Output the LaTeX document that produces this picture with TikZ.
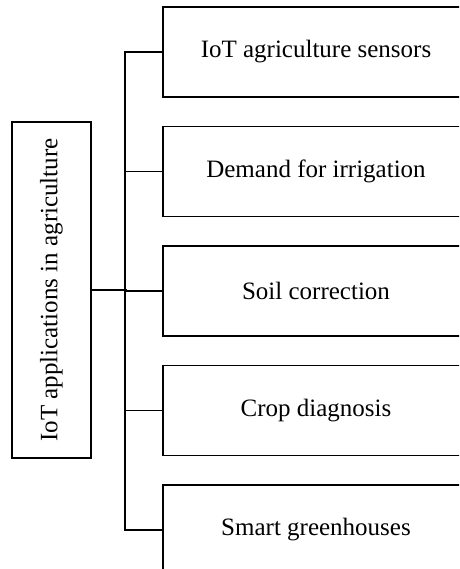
\documentclass[tikz,border=0pt]{standalone}
\usepackage{fontspec}
\setmainfont{Liberation Serif}
\usetikzlibrary{positioning}

\begin{document}
\begin{tikzpicture}[
  x=1pt, y=-1pt,
  node distance=28pt,
  app/.style={draw, line width=1.5pt, minimum width=306pt, minimum height=90pt,
    inner sep=0pt, font=\fontsize{25}{30}\selectfont},
  root/.style={draw, line width=1.5pt, minimum width=336pt, minimum height=79pt,
    inner sep=0pt, rotate=90, font=\fontsize{25}{30}\selectfont},
  link/.style={line width=1.6pt}
]
  \useasboundingbox (0,0) rectangle (459,569);
  \clip (0,0) rectangle (459,569);
  \node[root] (root) at (51.5,290) {IoT applications in agriculture};
  \node[app] (sens) at (316,52) {IoT agriculture sensors};
  \node[app,below=of sens] (irri) {Demand for irrigation};
  \node[app,below=of irri] (soil) {Soil correction};
  \node[app,below=of soil] (crop) {Crop diagnosis};
  \node[app,below=of crop] (house) {Smart greenhouses};
  \draw[link] (root.south) -- ++(35,0);
  \draw[link] (sens.west) -- ++(-37,0) |- (house.west);
  \foreach \b in {irri,soil,crop}
    \draw[link] (\b.west) -- ++(-37,0);
\end{tikzpicture}
\end{document}
